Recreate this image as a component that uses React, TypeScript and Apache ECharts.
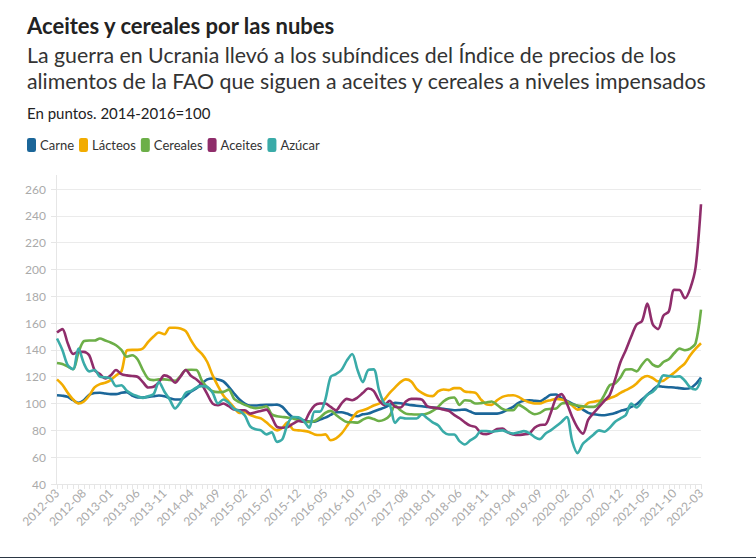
import React, { useEffect, useRef } from "react";
import * as echarts from "echarts";

const months: string[] = [];
for (let y = 2012; y <= 2022; y++) {
  for (let m = 1; m <= 12; m++) {
    if ((y === 2012 && m < 3) || (y === 2022 && m > 3)) continue;
    months.push(`${y}-${String(m).padStart(2, "0")}`);
  }
}

const carne = [
  106.2, 105.8, 105, 102.5, 100.5, 102.5, 106.5, 107.8, 108, 107.5,
  107, 107, 108, 108.5, 106, 104.5, 104.5, 105, 105.5, 106,
  105.5, 104, 103, 103, 105.5, 109, 111.5, 115, 118, 118.7,
  118, 116.5, 112.5, 107.5, 103, 100, 98.5, 98.5, 98.8, 99,
  99, 99.2, 97.5, 93, 89.5, 88.5, 87.5, 86.5, 86.5, 88,
  89.5, 91.5, 93.5, 93.5, 92.5, 91, 90.5, 92, 92.5, 94,
  95.5, 97, 99, 100.5, 100.2, 99.5, 98.8, 98.3, 98, 97.5,
  97, 96.5, 96, 95.5, 95, 95.2, 95.5, 94, 92.5, 92.5,
  92.5, 92.5, 92.5, 93.5, 95.5, 97.5, 100.5, 102, 102.5, 102,
  101.7, 104, 106.5, 106.7, 104, 102, 100, 98, 95.5, 93,
  92, 91.5, 91.3, 92, 93, 94.5, 95.5, 97.5, 99.5, 103,
  106.5, 110, 113, 112.5, 112.2, 112, 111.5, 111, 111.5, 114.5,
  119.5,
];

const lacteos = [
  118, 114, 108, 103, 100, 101.5, 106, 112, 114.5, 115.5,
  117.5, 121, 124, 139.5, 140, 140, 141, 146, 150, 153,
  151.7, 156.5, 156.5, 156, 154, 147, 141, 137, 131, 121,
  113, 106, 101.5, 97, 93, 93.5, 91.5, 90, 89, 86,
  82.5, 80, 82, 86, 80.5, 80, 79.6, 78.8, 77, 76.5,
  77, 72.6, 74, 77.5, 83, 89, 93.8, 95, 96.5, 98.5,
  100, 103, 108, 112, 116, 118, 116.5, 111, 108, 106,
  105.5, 109, 110.5, 110, 111.5, 111.5, 109, 108.5, 108, 103,
  99.5, 99, 102.5, 105, 106, 106.2, 105, 102.5, 101, 100,
  100, 101.5, 102.5, 103.5, 103, 101.5, 98.5, 95.5, 97, 100.5,
  101.3, 102, 102.5, 104, 105.5, 108, 110, 112, 115, 119,
  120.5, 119, 116.5, 117, 120, 123, 126.5, 130, 136, 141,
  145,
];

const cereales = [
  130.3, 129.5, 127.5, 125.6, 138, 146.5, 147, 147, 148.5, 147,
  145.5, 143.5, 140, 135, 136, 133, 125, 118.5, 117.5, 118,
  118, 117.5, 117, 120.5, 125, 125.2, 125, 117, 112, 109.2,
  108.5, 108.7, 110.4, 103.5, 101, 99, 97.5, 96.5, 97, 98,
  92, 90.5, 90, 89.5, 88.8, 87.5, 86.3, 86.3, 87, 89.5,
  93, 94.5, 91.5, 88.5, 86.2, 86, 85.8, 88, 89.5, 88.5,
  87, 88, 91, 98.5, 95, 92.5, 92, 91.8, 91.8, 92.5,
  94.5, 97.5, 101.5, 104, 104.5, 99, 102.5, 102, 100, 100.3,
  100.8, 101.5, 99, 96, 95, 95, 99, 97, 94, 92,
  93, 95.5, 96, 96.3, 100, 100.5, 99.5, 98.5, 98, 97.5,
  97.5, 100, 106.5, 113.7, 115, 119.5, 125.4, 125.6, 124, 129,
  133, 129, 127.5, 131, 133, 137.5, 141, 139.8, 141, 145,
  170,
];

const aceites = [
  153, 155.5, 145, 137, 138.5, 138.5, 136, 125, 122, 118.7,
  121, 125, 122, 121, 120.5, 120, 116, 112, 112.5, 116,
  121, 119.5, 115.5, 120, 125, 120.5, 118, 114, 107, 100,
  98.8, 100, 98, 95.5, 95, 95, 92.5, 93.5, 94.5, 95.5,
  90, 82.6, 82, 82.5, 85, 87, 86.5, 93, 98.5, 100,
  100, 97.5, 95, 100, 103.5, 102.5, 104.5, 108, 111.2, 109.5,
  102.5, 99, 102, 97.5, 97, 101.5, 103.5, 103.5, 103, 98,
  97, 96.5, 95.5, 94.5, 91.5, 89, 86, 83.5, 82.5, 78,
  77.2, 78.5, 81, 81.3, 78.5, 77, 76.5, 77, 77.6, 82,
  84, 84.3, 93, 104, 107, 100, 90, 82, 77.6, 88,
  93, 97.5, 102, 106.5, 118, 131, 140, 150, 159, 161.5,
  174.5, 159.2, 155.5, 165.6, 168.6, 184.8, 184.6, 178.5, 185.9, 201.7,
  248.6,
];

const azucar = [
  148.5, 140, 128.6, 125.6, 141, 130, 124, 125, 120, 119.5,
  118.7, 113, 113.7, 109.5, 107, 105.5, 104.2, 105.5, 107, 116,
  109, 103, 96.3, 101, 108, 109.5, 112, 113, 112.5, 108,
  100, 103, 100.5, 96, 94.5, 91, 83, 80.8, 80, 77,
  78.5, 71.4, 73.5, 85, 90, 89.8, 87, 82, 94, 94,
  103, 120, 122, 125, 132, 137, 125, 116, 125, 125.5,
  110, 100, 99, 85.6, 89.5, 88.8, 88.8, 88.8, 92, 89,
  86, 83.8, 79, 76.9, 76.9, 72, 69.5, 72.5, 75, 79.5,
  79.5, 79, 79.5, 80, 78.5, 77.6, 78.5, 79.4, 78, 75,
  73.5, 77.5, 80, 83, 86.3, 90, 72, 63, 70, 73.5,
  77, 80, 79, 82, 86.5, 89, 91.5, 100, 97, 101.5,
  106.5, 108.7, 113.5, 121, 120.5, 120, 120.3, 117, 112, 110.5,
  118,
];

const seriesNames = ["Carne", "Lácteos", "Cereales", "Aceites", "Azúcar"];
const seriesColors = ["#1b6699", "#f2ac00", "#6caf48", "#8f2d6b", "#3aaba8"];
const seriesData = [carne, lacteos, cereales, aceites, azucar];

const yTicks = [40, 60, 80, 100, 120, 140, 160, 180, 200, 220, 240, 260];

const FONT = "Lato, 'Noto Sans', sans-serif";

export default function App() {
  const ref = useRef<HTMLDivElement>(null);
  useEffect(() => {
    if (!ref.current) return;
    const chart = echarts.init(ref.current, undefined, { renderer: "svg" });
    chart.setOption({
      animation: false,
      backgroundColor: "#ffffff",
      textStyle: { fontFamily: FONT },
      graphic: [
        {
          type: "text",
          left: 27,
          top: 14,
          style: {
            text: "Aceites y cereales por las nubes",
            font: `bold 22px ${FONT}`,
            fill: "#222222",
          },
        },
        {
          type: "text",
          left: 27,
          top: 42,
          style: {
            text:
              "La guerra en Ucrania llevó a los subíndices del Índice de precios de los\nalimentos de la FAO que siguen a aceites y cereales a niveles impensados",
            font: `21.3px ${FONT}`,
            lineHeight: 26,
            fill: "#333333",
          },
        },
        {
          type: "text",
          left: 27,
          top: 105,
          style: {
            text: "En puntos. 2014-2016=100",
            font: `15px ${FONT}`,
            fill: "#222222",
          },
        },
        {
          type: "line",
          shape: { x1: 56.5, y1: 175, x2: 56.5, y2: 484 },
          style: { stroke: "#e6e6e6", lineWidth: 1 },
        },
        {
          type: "text",
          left: 27,
          top: 555,
          style: {
            text: "Fuente: elaboración propia con datos de la FAO",
            font: `13px ${FONT}`,
            fill: "#222222",
          },
        },
        {
          type: "rect",
          shape: { x: 0, y: 557, width: 756, height: 1 },
          style: { fill: "#2b3744" },
        },
      ],
      legend: {
        left: 27,
        top: 138,
        padding: 0,
        itemWidth: 9,
        itemHeight: 14,
        itemGap: 5,
        icon: "roundRect",
        textStyle: { fontSize: 13, color: "#333333", fontFamily: FONT, padding: [0, 0, 0, -1] },
        data: seriesNames,
      },
      grid: { left: 57, right: 55, top: 189, bottom: 74, containLabel: false },
      xAxis: {
        type: "category",
        boundaryGap: false,
        data: months,
        axisLine: { show: true, lineStyle: { color: "#e6e6e6" } },
        axisTick: { show: true, interval: 0, length: 5, lineStyle: { color: "#e6e6e6" } },
        axisLabel: {
          interval: 4,
          rotate: 45,
          color: "#aaaaaa",
          fontSize: 12,
          fontFamily: FONT,
          margin: 7,
        },
        splitLine: { show: false },
      },
      yAxis: {
        type: "value",
        min: 40,
        max: 260,
        interval: 20,
        axisLine: { show: false },
        axisTick: { show: true, length: 6, lineStyle: { color: "#e6e6e6" } },
        axisLabel: {
          color: "#aaaaaa",
          fontSize: 12,
          fontFamily: FONT,
          margin: 11,
          formatter: (v: number) => (yTicks.includes(v) ? String(v) : ""),
        },
        splitLine: { show: true, lineStyle: { color: "#ebebeb" } },
      },
      series: seriesNames.map((name, i) => ({
        name,
        type: "line",
        data: seriesData[i],
        smooth: 0.3,
        showSymbol: false,
        symbol: "none",
        color: seriesColors[i],
        lineStyle: { width: 2.6, color: seriesColors[i] },
      })),
    });
    return () => chart.dispose();
  }, []);
  return (
    <div
      ref={ref}
      style={{ position: "absolute", left: 0, top: 0, width: 756, height: 558 }}
    />
  );
}
